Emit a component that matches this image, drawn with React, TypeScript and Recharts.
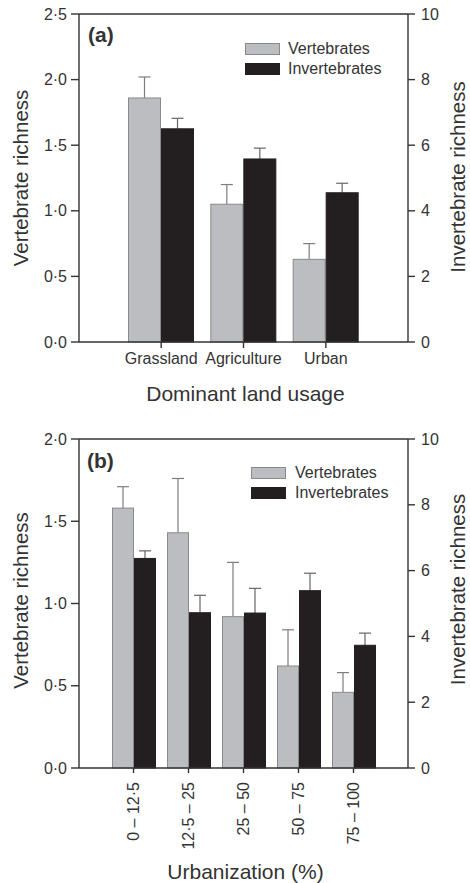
import React from 'react';
import { BarChart, Bar, XAxis, YAxis, ReferenceLine } from 'recharts';

// ---------- Panel (a) data ----------
const landCategories = ['Grassland', 'Agriculture', 'Urban'];
const landVert = [1.86, 1.05, 0.63];
const landVertErr = [0.16, 0.15, 0.12];
const landInv = [6.5, 5.58, 4.55];
const landInvErr = [0.32, 0.33, 0.29];
const landLeftTicks = [0, 0.5, 1, 1.5, 2, 2.5];
const landRightTicks = [0, 2, 4, 6, 8, 10];

// ---------- Panel (b) data ----------
const urbCategories = ['0 – 12·5', '12·5 – 25', '25 – 50', '50 – 75', '75 – 100'];
const urbVert = [1.58, 1.43, 0.92, 0.62, 0.46];
const urbVertErr = [0.13, 0.33, 0.33, 0.22, 0.12];
const urbInv = [6.37, 4.72, 4.71, 5.39, 3.73];
const urbInvErr = [0.23, 0.53, 0.75, 0.53, 0.37];
const urbLeftTicks = [0, 0.5, 1, 1.5, 2];
const urbRightTicks = [0, 2, 4, 6, 8, 10];

const landData = landCategories.map((c, i) => ({
  cat: c, vert: landVert[i], vertErr: landVertErr[i], inv: landInv[i], invErr: landInvErr[i],
}));
const urbData = urbCategories.map((c, i) => ({
  cat: c, vert: urbVert[i], vertErr: urbVertErr[i], inv: urbInv[i], invErr: urbInvErr[i],
}));

const FONT = '"Liberation Sans", Arial, Helvetica, sans-serif';
const AX = '#333333';
const VERT_FILL = '#bcbdc0';
const VERT_STROKE = '#8a8a8a';
const INV_FILL = '#231f20';

const fmtDot = (v: number) => v.toFixed(1).replace('.', '·');

const makeShape = (key: string, errKey: string, fill: string, stroke: string, errColor: string) => (props: any) => {
  const { x, y, width, height, payload } = props;
  const val = payload[key];
  const err = payload[errKey];
  const pxPerUnit = val ? height / val : 0;
  const errPx = err * pxPerUnit;
  const cx = x + width / 2;
  return (
    <g>
      <line x1={cx} x2={cx} y1={y} y2={y - errPx} stroke={errColor} strokeWidth={1.2} />
      <line x1={cx - 6} x2={cx + 6} y1={y - errPx} y2={y - errPx} stroke={errColor} strokeWidth={1.2} />
      <rect x={x + 0.5} y={y} width={width - 1} height={height} fill={fill} stroke={stroke} strokeWidth={1} />
    </g>
  );
};

const vertShape = makeShape('vert', 'vertErr', VERT_FILL, VERT_STROKE, '#7d7d7d');
const invShape = makeShape('inv', 'invErr', INV_FILL, INV_FILL, '#666666');

const RotTick = (props: any) => {
  const { x, y, payload } = props;
  return (
    <text
      x={x}
      y={y}
      transform={`rotate(-90 ${x} ${y})`}
      textAnchor="end"
      dominantBaseline="central"
      fontSize={16}
      fontFamily={FONT}
      fill={AX}
    >
      {payload.value}
    </text>
  );
};

const yTitle = (text: string, xPos: number, dy: number) => (p: any) => {
  const vb = p.viewBox || {};
  const cy = vb.y + vb.height / 2 + dy;
  return (
    <text
      x={xPos}
      y={cy}
      transform={`rotate(-90 ${xPos} ${cy})`}
      textAnchor="middle"
      dominantBaseline="central"
      fontSize={20.5}
      fontFamily={FONT}
      fill={AX}
    >
      {text}
    </text>
  );
};

const xTitle = (text: string, yOff: number) => (p: any) => {
  const vb = p.viewBox || {};
  return (
    <text
      x={vb.x + vb.width / 2 + 2}
      y={vb.y + yOff}
      textAnchor="middle"
      dominantBaseline="central"
      fontSize={21}
      fontFamily={FONT}
      fill={AX}
    >
      {text}
    </text>
  );
};

const tickStyle = { fontSize: 16, fontFamily: FONT, fill: AX };

const LegendBox = ({ left, top, textLeft }: { left: number; top: number; textLeft: number }) => (
  <>
    <div style={{ position: 'absolute', left, top, width: 35, height: 12, background: VERT_FILL, border: `1px solid ${VERT_STROKE}`, boxSizing: 'border-box' }} />
    <div style={{ position: 'absolute', left, top: top + 20, width: 35, height: 12, background: INV_FILL }} />
    <div style={{ position: 'absolute', left: textLeft, top: top - 3, fontSize: 16, fontFamily: FONT, color: AX, lineHeight: '18px', whiteSpace: 'nowrap' }}>Vertebrates</div>
    <div style={{ position: 'absolute', left: textLeft, top: top + 17, fontSize: 16, fontFamily: FONT, color: AX, lineHeight: '18px', whiteSpace: 'nowrap' }}>Invertebrates</div>
  </>
);

export default function App() {
  return (
    <div style={{ position: 'absolute', left: 0, top: 0, width: 470, height: 883, background: '#fff', fontFamily: FONT }}>
      {/* Panel (a) */}
      <div style={{ position: 'absolute', left: 0, top: 0 }}>
        <BarChart width={470} height={420} data={landData} margin={{ top: 14, right: 0, bottom: 0, left: 0 }} barGap={0} barSize={33}>
          <XAxis
            dataKey="cat"
            height={78}
            padding={{ left: 41, right: 41 }}
            stroke={AX}
            strokeWidth={1.4}
            tickSize={6}
            tickMargin={5}
            tick={tickStyle}
            interval={0}
            label={{ content: xTitle('Dominant land usage', 51) }}
          />
          <YAxis
            yAxisId="l"
            width={79}
            domain={[0, 2.5]}
            ticks={landLeftTicks}
            tickFormatter={fmtDot}
            stroke={AX}
            strokeWidth={1.4}
            tickSize={8}
            tickMargin={4}
            tick={tickStyle}
            label={{ content: yTitle('Vertebrate richness', 20, 0) }}
          />
          <YAxis
            yAxisId="r"
            orientation="right"
            width={62}
            domain={[0, 10]}
            ticks={landRightTicks}
            stroke={AX}
            strokeWidth={1.4}
            tickSize={7}
            tickMargin={6}
            tick={tickStyle}
            label={{ content: yTitle('Invertebrate richness', 457, -1) }}
          />
          <ReferenceLine yAxisId="l" y={2.5} stroke={AX} strokeWidth={1.4} />
          <Bar yAxisId="l" dataKey="vert" shape={vertShape} isAnimationActive={false} />
          <Bar yAxisId="r" dataKey="inv" shape={invShape} isAnimationActive={false} />
        </BarChart>
      </div>
      <div style={{ position: 'absolute', left: 88, top: 23, fontSize: 21, fontWeight: 'bold', fontFamily: FONT, color: AX }}>(a)</div>
      <LegendBox left={245} top={43} textLeft={288} />

      {/* Panel (b) */}
      <div style={{ position: 'absolute', left: 0, top: 420 }}>
        <BarChart width={470} height={463} data={urbData} margin={{ top: 19, right: 0, bottom: 0, left: 0 }} barGap={0} barSize={22}>
          <XAxis
            dataKey="cat"
            height={115}
            padding={{ left: 27, right: 27 }}
            stroke={AX}
            strokeWidth={1.4}
            tickSize={5}
            tickMargin={9}
            tick={<RotTick />}
            interval={0}
            label={{ content: xTitle('Urbanization (%)', 103) }}
          />
          <YAxis
            yAxisId="l"
            width={79}
            domain={[0, 2]}
            ticks={urbLeftTicks}
            tickFormatter={fmtDot}
            stroke={AX}
            strokeWidth={1.4}
            tickSize={8}
            tickMargin={4}
            tick={tickStyle}
            label={{ content: yTitle('Vertebrate richness', 20, -3) }}
          />
          <YAxis
            yAxisId="r"
            orientation="right"
            width={62}
            domain={[0, 10]}
            ticks={urbRightTicks}
            stroke={AX}
            strokeWidth={1.4}
            tickSize={7}
            tickMargin={6}
            tick={tickStyle}
            label={{ content: yTitle('Invertebrate richness', 457, -14) }}
          />
          <ReferenceLine yAxisId="l" y={2} stroke={AX} strokeWidth={1.4} />
          <Bar yAxisId="l" dataKey="vert" shape={vertShape} isAnimationActive={false} />
          <Bar yAxisId="r" dataKey="inv" shape={invShape} isAnimationActive={false} />
        </BarChart>
      </div>
      <div style={{ position: 'absolute', left: 87, top: 449, fontSize: 21, fontWeight: 'bold', fontFamily: FONT, color: AX }}>(b)</div>
      <LegendBox left={251} top={467} textLeft={295} />
    </div>
  );
}
